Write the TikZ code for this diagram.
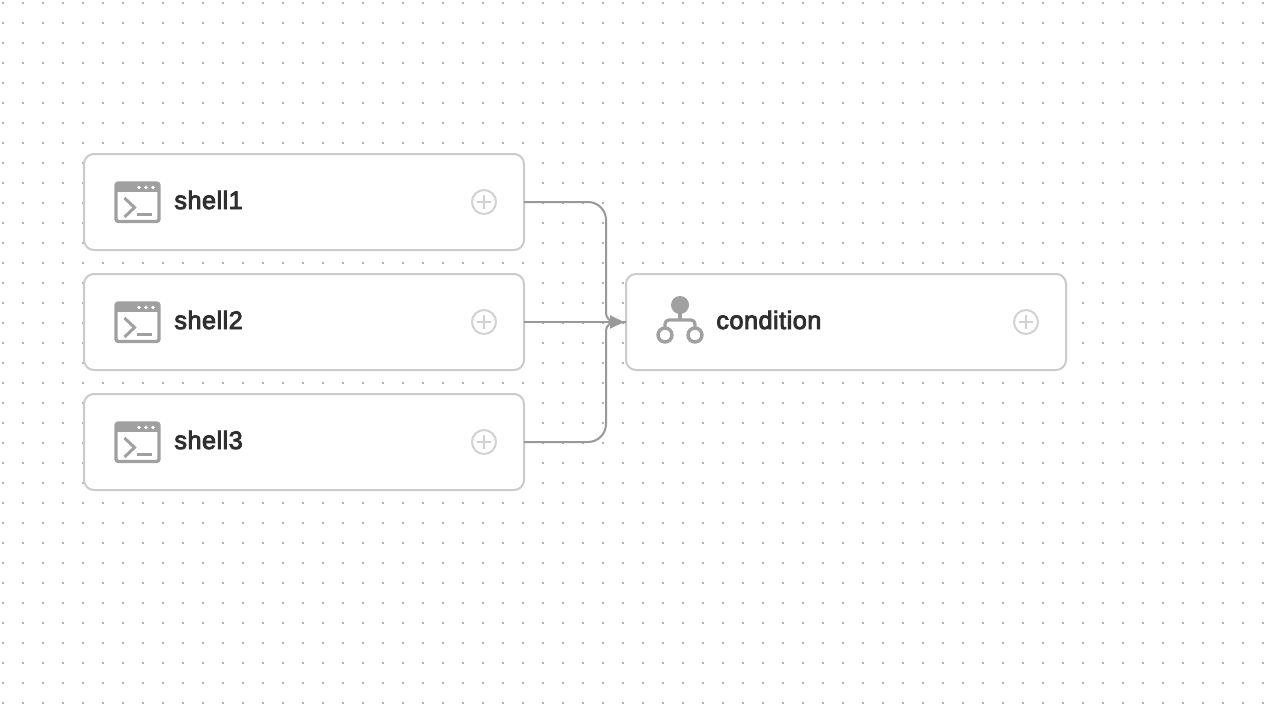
\documentclass[tikz,border=0pt]{standalone}
\usepackage{fontspec}
\setmainfont{Liberation Sans}[FakeBold=3.5,LetterSpace=2]
\usetikzlibrary{arrows.meta}
\definecolor{dotc}{HTML}{B4B4B4}
\definecolor{boxc}{HTML}{CBCBCB}
\definecolor{linec}{HTML}{999999}
\definecolor{iconc}{HTML}{A0A0A0}
\definecolor{plusc}{HTML}{D2D2D2}
\definecolor{textc}{HTML}{2F2F2F}
\tikzset{
  card/.style={draw=boxc,line width=1pt,fill=white,rounded corners=5pt,minimum width=220pt,minimum height=48pt,inner sep=0pt,outer sep=0pt,anchor=north west},
  lab/.style={text=textc,font=\fontsize{12.6pt}{15pt}\selectfont,inner sep=0pt,anchor=base west},
  conn/.style={draw=linec,line width=1pt},
  plusmark/.pic={
    \draw[plusc,line width=1pt] (0,0) circle (12);
    \draw[plusc,line width=1pt] (-7,0) -- (7,0) (0,-7) -- (0,7);
  },
  termicon/.pic={
    \draw[iconc,line width=1.7pt,rounded corners=1.2pt] (0,0) rectangle (43,38.5);
    \fill[iconc] (0,0) rectangle (43,9);
    \fill[white] (23,4.5) circle (1.8) (30,4.5) circle (1.8) (37,4.5) circle (1.8);
    \draw[iconc,line width=1.5pt] (8.5,15) -- (18.5,24.5) -- (8.5,34);
    \draw[iconc,line width=1.5pt] (21,31) -- (36,31);
  },
  condicon/.pic={
    \fill[iconc] (680,305) circle (9);
    \draw[iconc,line width=1.6pt,rounded corners=2pt] (665,335) -- (665,320) -- (695,320) -- (695,335);
    \draw[iconc,line width=1.6pt] (680,305) -- (680,320);
    \draw[iconc,line width=1.7pt,fill=white] (665,335) circle (7) (695,335) circle (7);
  }
}
\begin{document}
\begin{tikzpicture}[x=0.5pt,y=-0.5pt]
\useasboundingbox (0,0) rectangle (1274,706);
\fill[white] (0,0) rectangle (1274,706);
\foreach \i in {0,...,63}{
  \foreach \j in {0,...,35}{
    \fill[dotc] ({2+20*\i},{2+20*\j}) rectangle ++(2,2);
  }
}
\node[card] (s1) at (84,154) {};
\node[card] (s2) at (84,274) {};
\node[card] (s3) at (84,394) {};
\node[card] (c) at (626,274) {};
\foreach \y in {202,322,442}{
  \pic at (116,{\y-19}) {termicon};
  \pic at (484,\y) {plusmark};
}
\pic at (1026,322) {plusmark};
\pic at (0,0) {condicon};
\node[lab] (t1) at (174,209) {shell1};
\node[lab] (t2) at (174,329) {shell2};
\node[lab] (t3) at (174,449) {shell3};
\node[lab] (t4) at (716,329) {condition};
\coordinate (j) at (606,322);
\coordinate (tr) at (606,202);
\coordinate (br) at (606,442);
\draw[conn,rounded corners=9pt] (s1.east) -- (tr) [rounded corners=4.5pt] -- (j) -- (c.west);
\draw[conn,rounded corners=9pt] (s3.east) -- (br) [rounded corners=4.5pt] -- (j) -- (c.west);
\draw[conn,-{Triangle[length=7pt,width=6.5pt,fill=linec]},shorten >=1pt] (s2.east) -- (c.west);
\end{tikzpicture}
\end{document}
